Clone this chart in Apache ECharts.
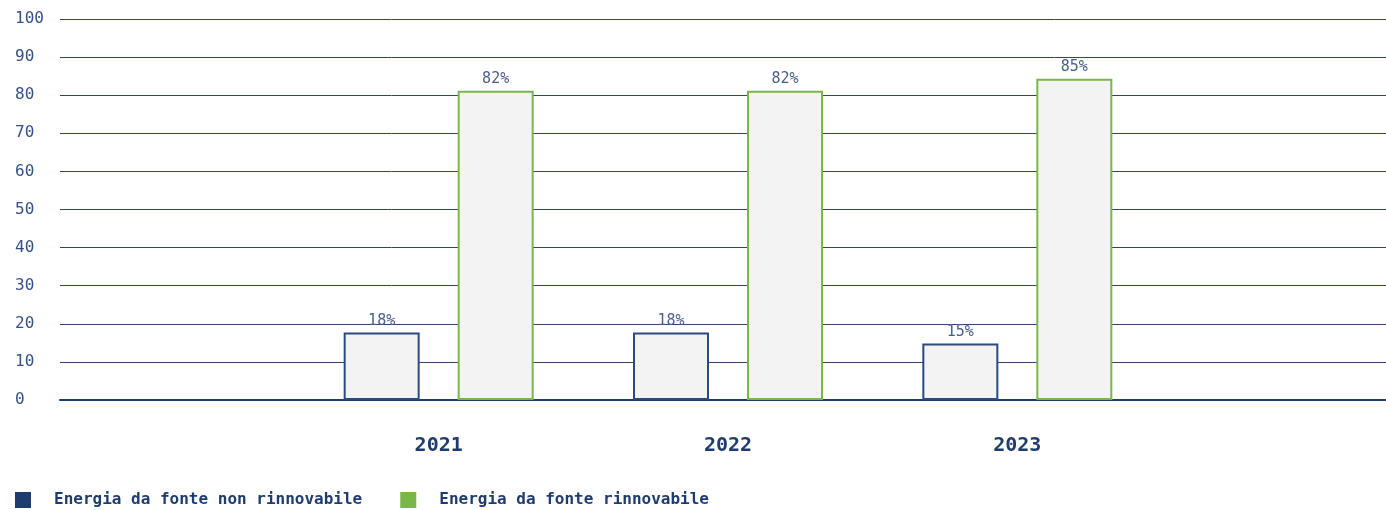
<!DOCTYPE html>
<html>
<head>
<meta charset="utf-8">
<script src="https://cdn.jsdelivr.net/npm/echarts@6/dist/echarts.min.js"></script>
<style>
  html, body { margin: 0; padding: 0; background: #fff; }
  #chart { width: 1386px; height: 510px; }
</style>
</head>
<body>
<div id="chart"></div>
<script>
// values
const years = ['2021', '2022', '2023'];
const nonRinnovabile = [17.7, 17.7, 14.8];
const rinnovabile = [81.2, 81.2, 84.3];
const nonRinnovabileLabels = ['18%', '18%', '15%'];
const rinnovabileLabels = ['82%', '82%', '85%'];
const yTicks = [0, 10, 20, 30, 40, 50, 60, 70, 80, 90, 100];

const blue = '#1f3c6e';
const green = '#7ab648';
const font = 'DejaVu Sans Mono';

const chart = echarts.init(document.getElementById('chart'));

chart.setOption({
  animation: false,
  grid: [
    { left: 60, right: 0, top: 19, bottom: 110 },
    { left: 294, right: 224, top: 19, bottom: 110 }
  ],
  legend: {
    left: 15,
    top: 492,
    padding: 0,
    itemWidth: 16,
    itemHeight: 16,
    itemGap: 38,
    icon: 'rect',
    textStyle: {
      fontFamily: font, fontSize: 16, fontWeight: 'bold', color: blue,
      padding: [0, 0, 0, 18]
    },
    data: [
      { name: 'Energia da fonte non rinnovabile', itemStyle: { color: blue, borderWidth: 0 } },
      { name: 'Energia da fonte rinnovabile', itemStyle: { color: green, borderWidth: 0 } }
    ]
  },
  xAxis: [
    {
      gridIndex: 0, type: 'category', data: [''],
      axisLine: { lineStyle: { color: blue, width: 2 } },
      axisTick: { show: false }, axisLabel: { show: false }
    },
    {
      gridIndex: 1, type: 'category', data: years,
      axisLine: { show: false }, axisTick: { show: false },
      axisLabel: {
        margin: 36, fontFamily: font, fontSize: 20, fontWeight: 'bold', color: blue
      }
    }
  ],
  yAxis: [
    {
      gridIndex: 0, type: 'value', min: yTicks[0], max: yTicks[yTicks.length - 1], interval: 10,
      axisLine: { show: false }, axisTick: { show: false },
      splitLine: { lineStyle: { color: '#33446a', width: 1 } },
      axisLabel: {
        align: 'left', margin: 45, fontFamily: font, fontSize: 16, color: '#34508a'
      }
    },
    {
      gridIndex: 1, type: 'value', min: 0, max: 100, show: false
    }
  ],
  series: [
    {
      name: 'Energia da fonte non rinnovabile',
      type: 'bar', xAxisIndex: 1, yAxisIndex: 1,
      barWidth: 76, barGap: '50%',
      data: nonRinnovabile,
      itemStyle: { color: '#f3f3f3', borderColor: '#2b4a80', borderWidth: 2 },
      label: {
        show: true, position: 'top', distance: 4,
        fontFamily: font, fontSize: 15, color: '#4a5d8a',
        formatter: p => nonRinnovabileLabels[p.dataIndex]
      }
    },
    {
      name: 'Energia da fonte rinnovabile',
      type: 'bar', xAxisIndex: 1, yAxisIndex: 1,
      barWidth: 76, barGap: '50%',
      data: rinnovabile,
      itemStyle: { color: '#f3f3f3', borderColor: green, borderWidth: 2 },
      label: {
        show: true, position: 'top', distance: 4,
        fontFamily: font, fontSize: 15, color: '#4a5d8a',
        formatter: p => rinnovabileLabels[p.dataIndex]
      }
    }
  ]
});
</script>
</body>
</html>
